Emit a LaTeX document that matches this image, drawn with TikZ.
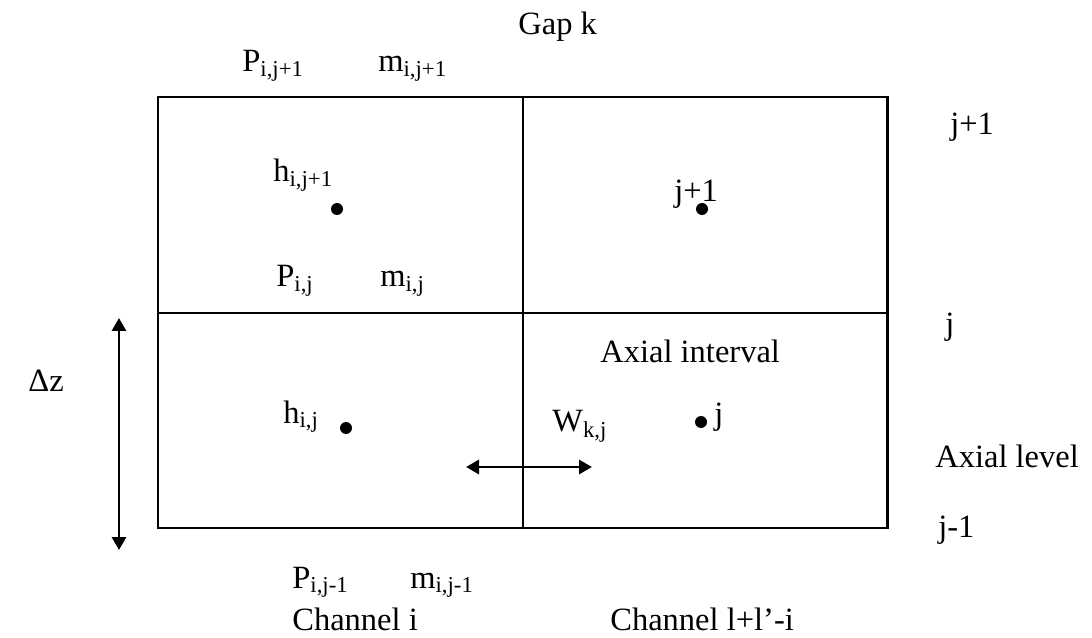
\documentclass[tikz,border=0pt]{standalone}
\usepackage{fontspec}
\setmainfont{Liberation Serif}
\usetikzlibrary{arrows.meta, positioning}

\begin{document}
\begin{tikzpicture}[
    x=0.02cm, y=-0.02cm,
    lbl/.style={anchor=base west, inner sep=0pt, font=\fontsize{18.5}{22}\selectfont},
    pt/.style={circle, fill=black, inner sep=0pt, minimum size=2.4mm},
    grid/.style={line width=1.7pt},
    arr/.style={{Triangle[length=2.6mm, width=2.8mm]}-{Triangle[length=2.6mm, width=2.8mm]}, line width=1.7pt},
  ]
    \useasboundingbox (0,0) rectangle (1092,638);
    % control volumes
    \draw[grid] (158,97) rectangle (887,528);
    \draw[grid] (158,313) -- (887,313);
    \draw[grid] (523,97) -- (523,528);

    % cell centres
    \node[pt] (hup) at (337,209) {};
    \node[pt] (cup) at (702,209) {};
    \node[pt] (hlo) at (346,428) {};
    \node[pt] (clo) at (701,422) {};

    % labels
    \node[lbl] (gap) at (518,35) {Gap k};
    \node[lbl] (pup) at (242,72) {P\textsubscript{i,j+1}};
    \node[lbl] (mup) at (378,72) {m\textsubscript{i,j+1}};
    \node[lbl] (lvtop) at (950,135) {j+1};
    \node[lbl] (hupl) at (273,182) {h\textsubscript{i,j+1}};
    \node[lbl] (cupl) at (674,202) {j+1};
    \node[lbl] (pmid) at (276,287) {P\textsubscript{i,j}};
    \node[lbl] (mmid) at (380,287) {m\textsubscript{i,j}};
    \node[lbl] (lvmid) at (945,335) {j};
    \node[lbl] (intv) at (600,363) {Axial interval};
    \node[lbl] (dz) at (28,392) {Δz};
    \node[lbl] (hlol) at (283,423) {h\textsubscript{i,j}};
    \node[lbl] (wkj) at (552,432) {W\textsubscript{k,j}};
    \node[lbl] (clol) at (714,424) {j};
    \node[lbl] (lvl) at (935,467) {Axial level};
    \node[lbl] (lvbot) at (938,537) {j-1};
    \node[lbl] (plo) at (292,588) {P\textsubscript{i,j-1}};
    \node[lbl] (mlo) at (410,588) {m\textsubscript{i,j-1}};
    \node[lbl] (chi) at (292,630) {Channel i};
    \node[lbl] (chl) at (610,630) {Channel l+l'-i};

    % arrows
    \coordinate (dztop) at (119,318);
    \coordinate (dzbot) at (119,550);
    \coordinate (wl) at (466,467);
    \coordinate (wr) at (592,467);
    \draw[arr] (dztop) -- (dzbot);
    \draw[arr] (wl) -- (wr);
\end{tikzpicture}
\end{document}
